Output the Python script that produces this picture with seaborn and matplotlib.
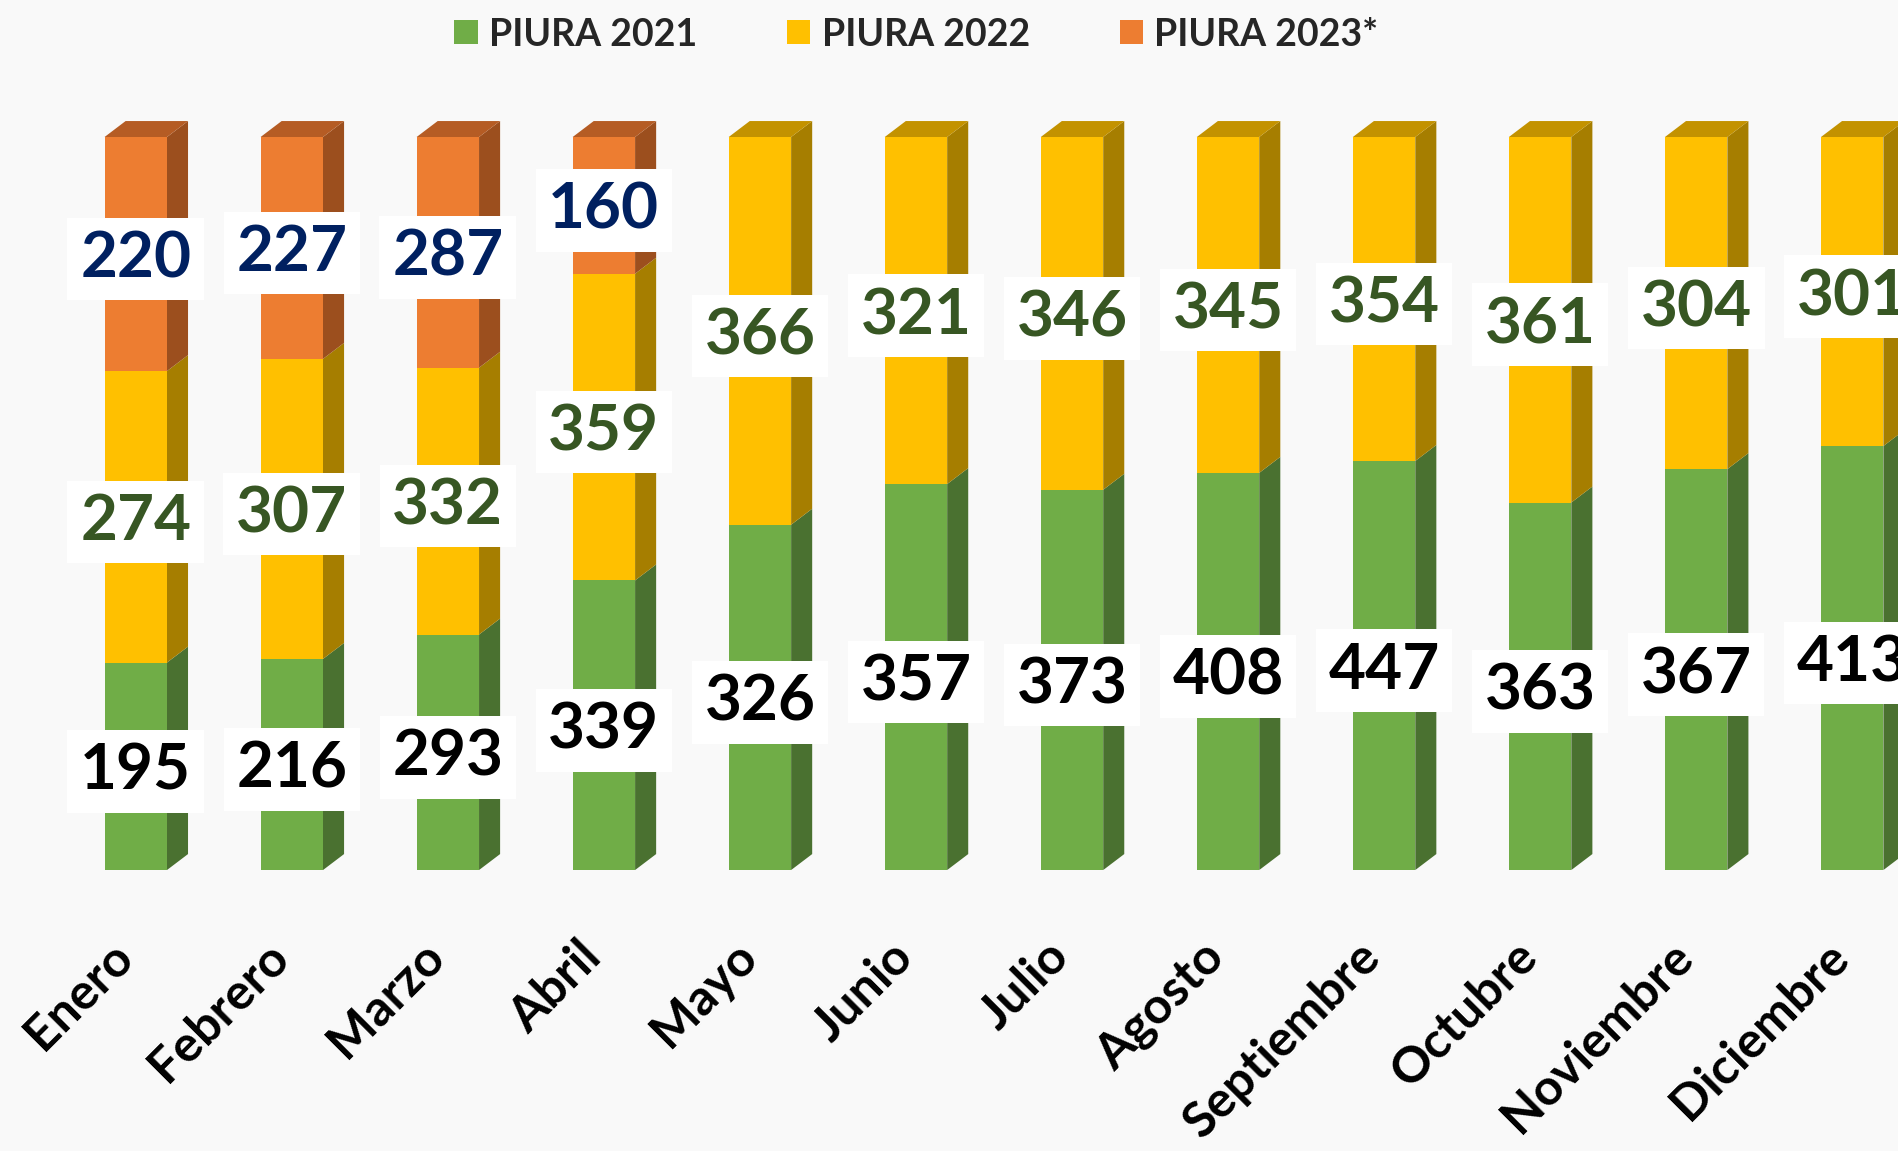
"""
Piura monthly counts 2021-2023, shown as 100% stacked 3D-look columns.
"""
import numpy as np
import pandas as pd
import matplotlib
matplotlib.use("Agg")
import matplotlib.pyplot as plt
from matplotlib.patches import Polygon, Patch
import seaborn as sns

MONTHS = ["Enero", "Febrero", "Marzo", "Abril", "Mayo", "Junio", "Julio",
          "Agosto", "Septiembre", "Octubre", "Noviembre", "Diciembre"]
PIURA_2021 = [195, 216, 293, 339, 326, 357, 373, 408, 447, 363, 367, 413]
PIURA_2022 = [274, 307, 332, 359, 366, 321, 346, 345, 354, 361, 304, 301]
PIURA_2023 = [220, 227, 287, 160, np.nan, np.nan, np.nan, np.nan,
              np.nan, np.nan, np.nan, np.nan]
SERIES = ["PIURA 2021", "PIURA 2022", "PIURA 2023*"]

FRONT = ["#70AD47", "#FFC000", "#ED7D31"]
SIDE = ["#4A7130", "#A67E00", "#9C4F1E"]
TOP = ["#5E8F3C", "#C39200", "#B55C24"]
LABEL_COLORS = ["#000000", "#375623", "#002060"]
BG = "#F9F9F9"

BAR_W = 0.40
DX, DY = 0.135, 0.0218   # depth offset of the 3D faces


def main():
    df = pd.DataFrame({"mes": MONTHS, "y2021": PIURA_2021,
                       "y2022": PIURA_2022, "y2023": PIURA_2023})
    cols = ["y2021", "y2022", "y2023"]
    total = df[cols].sum(axis=1, skipna=True)
    shares = df[cols].div(total, axis=0)
    df["c1"] = shares["y2021"]
    df["c2"] = shares["y2021"] + shares["y2022"]
    df["c3"] = df["c2"] + shares["y2023"]

    sns.set_theme(style="white")
    plt.rcParams["font.family"] = ["Lato", "DejaVu Sans"]

    fig = plt.figure(figsize=(18.99, 11.51), dpi=100, facecolor=BG)
    ax = fig.add_axes([0, 0.2441, 1, 0.6687])
    ax.set_facecolor(BG)

    # front faces: cumulative layers drawn from the top down
    has23 = df.dropna(subset=["c3"])
    sns.barplot(data=has23, x="mes", y="c3", order=MONTHS, color=FRONT[2],
                saturation=1, width=BAR_W, linewidth=0, ax=ax, zorder=2)
    sns.barplot(data=df, x="mes", y="c2", order=MONTHS, color=FRONT[1],
                saturation=1, width=BAR_W, linewidth=0, ax=ax, zorder=2)
    sns.barplot(data=df, x="mes", y="c1", order=MONTHS, color=FRONT[0],
                saturation=1, width=BAR_W, linewidth=0, ax=ax, zorder=2)

    # side and top faces
    for i, row in df.iterrows():
        bounds = [0.0, row["c1"], row["c2"]]
        if not np.isnan(row["c3"]):
            bounds.append(row["c3"])
        x1 = i + BAR_W / 2
        x0 = i - BAR_W / 2
        for k in range(len(bounds) - 1):
            b, t = bounds[k], bounds[k + 1]
            ax.add_patch(Polygon([(x1, b), (x1 + DX, b + DY), (x1 + DX, t + DY), (x1, t)],
                                 closed=True, fc=SIDE[k], ec="none", zorder=1))
        k_top = len(bounds) - 2
        t = bounds[-1]
        ax.add_patch(Polygon([(x0, t), (x0 + DX, t + DY), (x1 + DX, t + DY), (x1, t)],
                             closed=True, fc=TOP[k_top], ec="none", zorder=1,
                             clip_on=False))

        # value labels in the middle of each segment
        vals = [row["y2021"], row["y2022"], row["y2023"]]
        for k in range(len(bounds) - 1):
            mid = (bounds[k] + bounds[k + 1]) / 2
            ax.text(i, mid, f"{vals[k]:.0f}", ha="center", va="center_baseline",
                    fontsize=46, fontweight="bold", color=LABEL_COLORS[k],
                    bbox=dict(boxstyle="square,pad=0.2", fc="white", ec="none"),
                    zorder=5)

        ax.text(i - 0.07, -0.108, row["mes"], rotation=45, ha="right", va="center",
                rotation_mode="anchor", fontsize=36, fontweight="bold",
                color="black", clip_on=False)

    ax.set_xlim(-0.87, 11.30)
    ax.set_ylim(0, 1.05)
    ax.axis("off")

    handles = [Patch(facecolor=c, edgecolor="none") for c in FRONT]
    fig.legend(handles, SERIES, loc="center", bbox_to_anchor=(0.4826, 0.970),
               ncol=3, frameon=False, prop={"weight": "bold", "size": 27},
               handlelength=0.62, handleheight=0.62, handletextpad=0.3,
               columnspacing=2.4)

    fig.savefig("out.png", dpi=100, facecolor=BG)
    plt.close(fig)


if __name__ == "__main__":
    main()
